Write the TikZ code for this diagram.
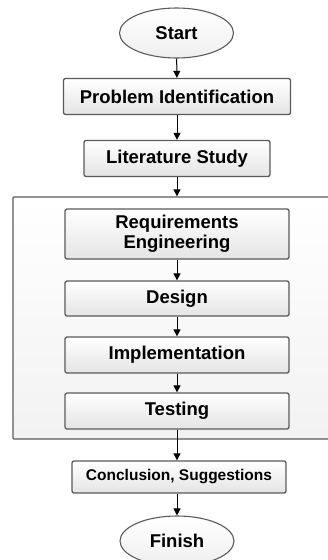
\documentclass[tikz,border=0pt]{standalone}
\usepackage{fontspec}
\setmainfont{Liberation Sans}
\usepackage{tikz}
\usetikzlibrary{arrows.meta,shapes.geometric}
\definecolor{FlowEdge}{HTML}{5A5A5A}
\definecolor{FlowFill}{HTML}{E4E4E4}
\definecolor{PhaseFill}{HTML}{F2F2F2}

\begin{document}
\begin{tikzpicture}[x=1pt, y=-1pt,
    font=\bfseries\fontsize{18.5}{20}\selectfont,
    stage/.style={draw=FlowEdge, line width=1.3pt, rounded corners=2pt,
      top color=white, bottom color=FlowFill, inner sep=0pt,
      align=center, minimum height=36pt},
    terminal/.style={ellipse, draw=FlowEdge, line width=1.1pt,
      top color=white, bottom color=FlowFill!60, inner sep=0pt,
      minimum width=114pt, minimum height=50pt},
    flow/.style={line width=1pt, -{Triangle[length=7pt, width=7pt]}}]
  \useasboundingbox (0,0) rectangle (328,560);
  % outer phase around the development steps
  \node[draw=FlowEdge, line width=1.3pt, rounded corners=1pt,
    top color=white, bottom color=PhaseFill, minimum width=327pt,
    minimum height=242pt, inner sep=0pt] (phase) at (176.5,318) {};
  \node[terminal] (start) at (176.5,33) {Start};
  \node[stage, minimum width=227pt] (probid) at (177,96.5) {Problem Identification};
  \node[stage, minimum width=186pt] (litstudy) at (177,158.5) {Literature Study};
  \node[stage, minimum width=224pt, minimum height=50pt] (reqeng) at (177,234)
    {Requirements\\Engineering};
  \node[stage, minimum width=224pt, minimum height=35pt] (design) at (177,298.5) {Design};
  \node[stage, minimum width=224pt] (impl) at (177,355) {Implementation};
  \node[stage, minimum width=224pt] (testing) at (177,411) {Testing};
  \node[stage, minimum width=214pt, minimum height=32pt,
    font=\bfseries\fontsize{15.5}{18}\selectfont] (concl) at (179,477)
    {Conclusion, Suggestions};
  \node[terminal] (finish) at (177,541) {Finish};
  % connectors
  \draw[flow] (start) -- (probid);
  \draw[flow] (probid) -- (litstudy);
  \draw[flow] (litstudy.south) -- (litstudy.south |- phase.north);
  \draw[flow] (reqeng) -- (design);
  \draw[flow] (design) -- (impl);
  \draw[flow] (impl) -- (testing);
  \draw[flow] (testing.south) -- (testing.south |- concl.north);
  \draw[flow] (concl.south -| finish.north) -- (finish.north);
\end{tikzpicture}
\end{document}
